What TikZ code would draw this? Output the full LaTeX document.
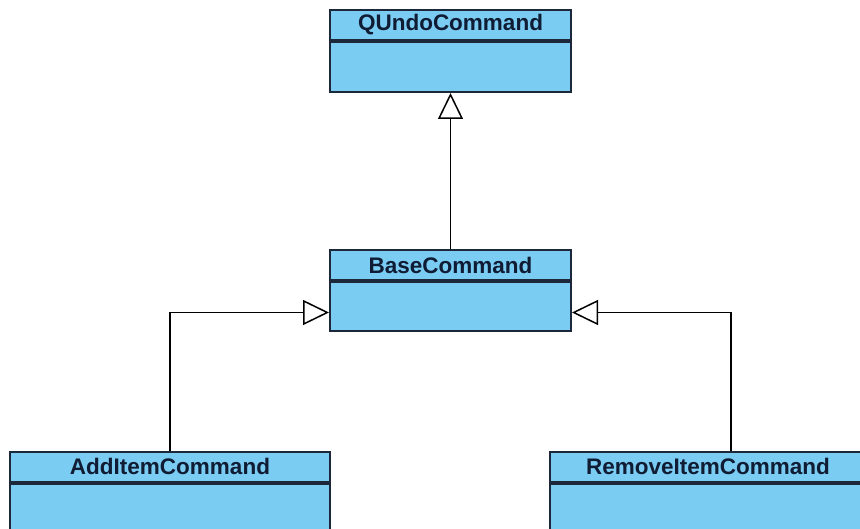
\documentclass[tikz,border=0pt]{standalone}
\usepackage{fontspec}
\setmainfont{Liberation Sans}
\usetikzlibrary{arrows.meta,calc}
\definecolor{classfill}{RGB}{122,204,242}
\definecolor{classline}{RGB}{28,40,58}
\definecolor{classtext}{RGB}{16,28,52}
\tikzset{
  classhead/.style={draw=classline, line width=2pt, fill=classfill, rectangle,
    inner sep=0pt, minimum height=30pt, text=classtext,
    font=\fontsize{22.5}{24}\selectfont\bfseries},
  classbody/.style={draw=classline, line width=2pt, fill=classfill, rectangle,
    inner sep=0pt, anchor=north},
  inherit/.style={draw=black, line width=1.6pt,
    -{Triangle[open, length=26pt, width=25pt, line width=1.5pt, fill=white]}}
}
\begin{document}
\begin{tikzpicture}[x=1pt,y=-1pt]
  \fill[white] (0,0) rectangle (860,529);
  \useasboundingbox (0,0) rectangle (860,529);
  \clip (0,0) rectangle (860,529);

  % QUndoCommand
  \node[classhead, minimum width=241pt] (undohead) at (450.5,25) {QUndoCommand};
  \node[classbody, minimum width=241pt, minimum height=50pt] (undobody) at (undohead.south) {};

  % BaseCommand
  \node[classhead, minimum width=241pt] (basehead) at (450.5,265.5) {BaseCommand};
  \node[classbody, minimum width=241pt, minimum height=49pt] (basebody) at (basehead.south) {};

  % AddItemCommand
  \node[classhead, minimum width=320pt] (addhead) at (170,466.5) {AddItemCommand};
  \node[classbody, minimum width=320pt, minimum height=80pt] (addbody) at (addhead.south) {};

  % RemoveItemCommand
  \node[classhead, minimum width=316pt] (remhead) at (708,466.5) {RemoveItemCommand};
  \node[classbody, minimum width=316pt, minimum height=80pt] (rembody) at (remhead.south) {};
  \coordinate (remtop) at ([xshift=23pt]remhead.north);

  % generalisation links
  \draw[inherit] (basehead.north) -- (undobody.south);
  \draw[inherit] (addhead.north) |- ([yshift=-5.5pt]basebody.west);
  \draw[inherit] (remtop) |- ([yshift=-5.5pt]basebody.east);
\end{tikzpicture}
\end{document}
